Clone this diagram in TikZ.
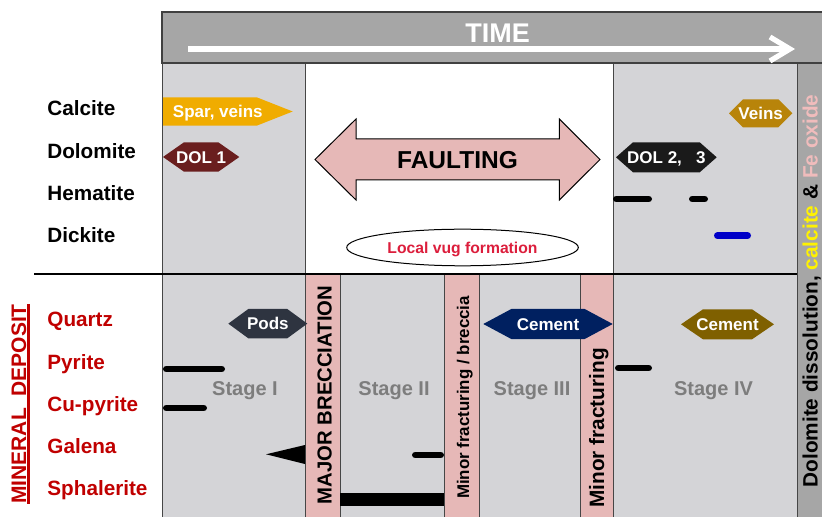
\documentclass[tikz,border=0pt]{standalone}
\usepackage{fontspec}
\setmainfont{Liberation Sans}
\usetikzlibrary{arrows.meta,shapes.geometric}
\definecolor{barGray}{RGB}{166,166,166}
\definecolor{stageGray}{RGB}{212,212,215}
\definecolor{lineGray}{RGB}{70,70,70}
\definecolor{fracPink}{RGB}{230,184,183}
\definecolor{depRed}{RGB}{192,0,0}
\definecolor{stageText}{RGB}{125,125,125}
\definecolor{sparYellow}{RGB}{240,172,0}
\definecolor{dolRed}{RGB}{106,30,30}
\definecolor{dolBlack}{RGB}{26,26,26}
\definecolor{veinGold}{RGB}{184,132,10}
\definecolor{podSlate}{RGB}{46,52,64}
\definecolor{cemBlue}{RGB}{0,32,96}
\definecolor{cemBrown}{RGB}{127,96,0}
\definecolor{vugRed}{RGB}{220,30,60}
\definecolor{dickBlue}{RGB}{0,0,200}
\definecolor{feoxPink}{RGB}{240,188,188}
\def\fsize#1{\fontsize{#1}{#1}\selectfont\bfseries}
\def\hextag[#1](#2:#3:#4:#5:#6)(#7)#8{%
	\fill[#1] (#2, {(#4+#5)/2}) -- (#2+#6, #4) -- (#3-#6, #4) -- (#3, {(#4+#5)/2}) -- (#3-#6, #5) -- (#2+#6, #5) -- cycle;
	\node[tag] (#7) at ({(#2+#3)/2}, {(#4+#5)/2}) {#8};}
\tikzset{
	mineral/.style={anchor=base west, inner sep=0pt, font=\fsize{10.35}},
	deposit/.style={mineral, text=depRed},
	tag/.style={text=white, inner sep=0pt, text height=6.1pt, text depth=0pt, font=\fsize{8.5}},
	stagelab/.style={text=stageText, inner sep=0pt, text height=7.2pt, text depth=0pt, font=\fsize{10}},
	upright/.style={rotate=90, anchor=base, inner sep=0pt},
	trace/.style={line width=3.4pt, line cap=round},
	column/.style={draw=lineGray, line width=0.5pt}
}

\begin{document}
\begin{tikzpicture}[x=0.5pt, y=-0.5pt]
		%%%%% START %%%%%
		\useasboundingbox (0, 0) rectangle (822, 517);
		
		\draw[column, fill=stageGray] (162, 63) rectangle (305, 530);
		\draw[column, fill=white] (305, 63) rectangle (613, 274);
		\draw[column, fill=stageGray] (613, 63) rectangle (797, 530);
		\draw[column, fill=barGray] (797, 63) rectangle (840, 530);
		\draw[column, fill=fracPink] (305, 274) rectangle (340, 530);
		\draw[column, fill=stageGray] (340, 274) rectangle (444, 530);
		\draw[column, fill=fracPink] (444, 274) rectangle (479, 530);
		\draw[column, fill=stageGray] (479, 274) rectangle (580, 530);
		\draw[column, fill=fracPink] (580, 274) rectangle (613, 530);
		\draw[line width=0.6pt] (34, 274) -- (797, 274);
		
		\draw[fill=barGray, draw=black!75, line width=0.7pt] (162, 12) rectangle (840, 63);
		\node[text=white, inner sep=0pt, text height=9.7pt, text depth=0pt, font=\fsize{13.5}] (time) at (497.5, 33.3) {TIME};
		\coordinate (timeStart) at (188, 49);
		\coordinate (timeEnd) at (795, 49);
		\draw[white, line width=2.6pt, -{Straight Barb[length=10pt, width=12pt]}] (timeStart) -- (timeEnd);
		
		\node[mineral] (calcite) at (47, 115.7) {Calcite};
		\node[mineral] (dolomite) at (47, 158.5) {Dolomite};
		\node[mineral] (hematite) at (47, 201) {Hematite};
		\node[mineral] (dickite) at (47, 242.7) {Dickite};
		\node[deposit] (quartz) at (47, 327) {Quartz};
		\node[deposit] (pyrite) at (47, 369) {Pyrite};
		\node[deposit] (cupyrite) at (47, 411) {Cu-pyrite};
		\node[deposit] (galena) at (47, 453) {Galena};
		\node[deposit] (sphalerite) at (47, 495) {Sphalerite};
		
		\node[upright, text=depRed, font=\fsize{10.5}] (mindep) at (26, 404) {MINERAL\ \ DEPOSIT};
		\draw[depRed, line width=1.3pt] (28.5, 304) -- (28.5, 504);
		
		\fill[sparYellow] (163, 97.3) -- (256.7, 97.3) -- (292.7, 111.5) -- (256.7, 125.7) -- (163, 125.7) -- cycle;
		\node[tag] (spar) at (217.8, 111.5) {Spar, veins};
		\hextag[dolRed](163:239.3:142.3:171.7:21)(dol1){DOL 1}
		\hextag[dolBlack](616:716.7:142.3:172.3:17)(dol23){DOL 2,\ \ \ 3}
		\hextag[veinGold](729:792.3:99.3:127.3:14)(veins){Veins}
		
		\draw[fill=fracPink, line width=0.5pt] (315, 159.5) -- (356, 119) -- (356, 139) -- (559.3, 139) -- (559.3, 119) -- (600, 159.5) -- (559.3, 200) -- (559.3, 180) -- (356, 180) -- (356, 200) -- cycle;
		\node[inner sep=0pt, text height=8.8pt, text depth=0pt, font=\fsize{12.25}] (faulting) at (457.5, 159.3) {FAULTING};
		
		\node[draw, ellipse, line width=0.5pt, minimum width=115.8pt, minimum height=18.3pt, inner sep=0pt, text=vugRed, text height=5.6pt, text depth=0pt, font=\fsize{7.85}] (vug) at (462.5, 247.5) {Local vug formation};
		
		\draw[trace] (616.4, 199) -- (648.6, 199);
		\draw[trace] (692.4, 199) -- (704.6, 199);
		\draw[trace, dickBlue] (717.4, 235.7) -- (747.6, 235.7);
		
		\hextag[podSlate](228.3:307.3:309:338.3:20)(pods){Pods}
		\hextag[cemBlue](483.3:612.7:309:339:28)(cement1){Cement}
		\hextag[cemBrown](681:774:309.3:339.3:22)(cement2){Cement}
		
		\draw[trace] (166.4, 369) -- (221.6, 369);
		\draw[trace] (166.4, 408) -- (203.6, 408);
		\fill (266, 454.3) -- (305, 445) -- (305, 464) -- cycle;
		\draw[trace] (415.4, 455) -- (440.6, 455);
		\fill (340, 493) rectangle (444, 506);
		\draw[trace] (618.4, 368) -- (648.6, 368);
		
		\node[stagelab] (stage1) at (245, 388.4) {Stage I};
		\node[stagelab] (stage2) at (394, 388.4) {Stage II};
		\node[stagelab] (stage3) at (532, 388.4) {Stage III};
		\node[stagelab] (stage4) at (713.5, 388.4) {Stage IV};
		
		\node[upright, font=\fsize{10.15}] (major) at (331.5, 395) {MAJOR BRECCIATION};
		\node[upright, font=\fsize{8.45}] (minor1) at (469, 397.5) {Minor fracturing / breccia};
		\node[upright, font=\fsize{10.4}] (minor2) at (604, 428) {Minor fracturing};
		
		\node[upright, font=\fsize{10.4}] (dissolution) at (817.5, 291) {Dolomite dissolution, \textcolor{yellow}{calcite} \& \textcolor{feoxPink}{Fe oxide}};
		
		%%%%% END %%%%%
	\end{tikzpicture}
\end{document}
